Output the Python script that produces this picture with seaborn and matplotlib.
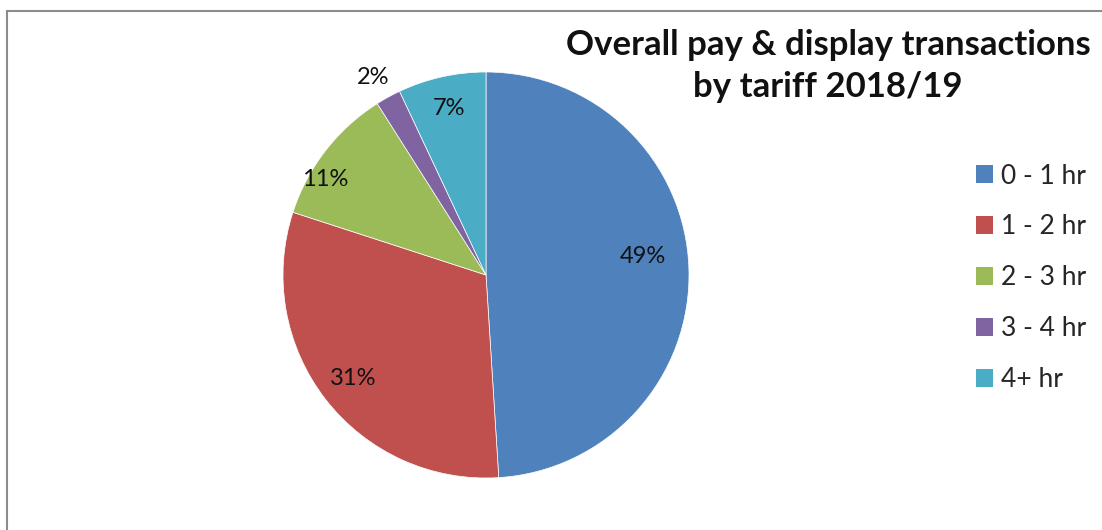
import matplotlib
matplotlib.use("Agg")
import matplotlib.pyplot as plt
import matplotlib.patches as mpatches
import numpy as np
import seaborn as sns

categories = ["0 - 1 hr", "1 - 2 hr", "2 - 3 hr", "3 - 4 hr", "4+ hr"]
shares = [49, 31, 11, 2, 7]
colors = ["#4F81BD", "#C0504D", "#9BBB59", "#8064A2", "#4BACC6"]
label_dist = [0.78, 0.83, 0.92, 1.12, 0.84]
label_turn = [5, 0, 7, 1, 0]
title = "Overall pay & display transactions\nby tariff 2018/19"

sns.set_theme(style="white")
plt.rcParams["font.family"] = ["Lato", "DejaVu Sans"]

W, H = 1102, 530
fig = plt.figure(figsize=(W / 100, H / 100), dpi=100)
fig.patch.set_facecolor("white")

# outer chart frame (left and top edges visible)
frame = mpatches.Rectangle((7 / W, -0.1), 1.2, (H - 11) / H + 0.1, transform=fig.transFigure,
                           fill=False, edgecolor="#8c8c8c", linewidth=1.5)
fig.add_artist(frame)

cx, cy, r = 486, 530 - 275, 203
ax = fig.add_axes([(cx - r) / W, (cy - r) / H, 2 * r / W, 2 * r / H])
wedges, _ = ax.pie(shares, colors=colors, startangle=90, counterclock=False,
                   radius=1.0, wedgeprops=dict(linewidth=0.5, edgecolor="white"))
ax.set_xlim(-1, 1)
ax.set_ylim(-1, 1)
ax.set_aspect("equal")
ax.axis("off")

for w, v, d, t in zip(wedges, shares, label_dist, label_turn):
    th = np.deg2rad((w.theta1 + w.theta2) / 2 + t)
    ax.text(d * np.cos(th), d * np.sin(th), f"{v}%", ha="center", va="center",
            fontsize=17, color="#111111")

fig.text(828 / W, 1 - 66 / H, title, ha="center", va="center", fontsize=25,
         fontweight="bold", color="#111111", linespacing=1.38)

handles = [mpatches.Patch(facecolor=c, edgecolor="none") for c in colors]
leg = fig.legend(handles, categories, loc="upper left", bbox_to_anchor=(965 / W, 1 - 153 / H),
                 frameon=False, fontsize=19, handlelength=0.65, handleheight=0.65,
                 handletextpad=0.3, labelspacing=0.98, borderaxespad=0)

fig.savefig("out.png", dpi=100, facecolor="white")
